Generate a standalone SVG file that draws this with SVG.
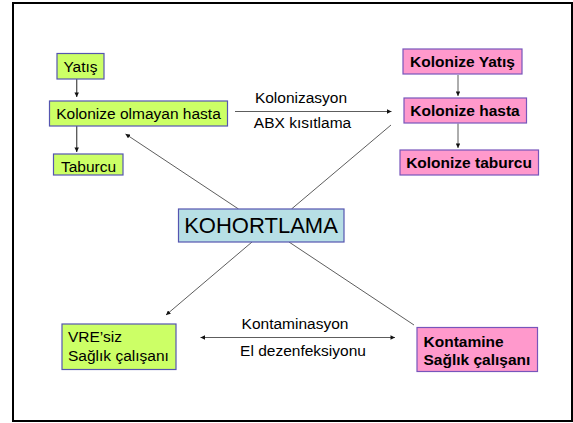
<svg xmlns="http://www.w3.org/2000/svg" width="573" height="423" viewBox="0 0 573 423">
<defs>
<style>
.t{font-family:"Liberation Sans",Arial,sans-serif;font-size:15.5px;fill:#000}
.b{font-weight:bold}
.g{fill:#CCFF66;stroke:#5555B0;stroke-width:1.2}
.p{fill:#FF99CC;stroke:#7755BB;stroke-width:1.2}
.k{fill:#B7DFE5;stroke:#5555B0;stroke-width:1.2}
.c{stroke:#333;stroke-width:0.8;fill:none}
.v{stroke:#555;stroke-width:1.3;fill:none}
</style>
<marker id="ah" viewBox="0 0 10 10" refX="10" refY="5" markerWidth="5" markerHeight="4.5" markerUnits="userSpaceOnUse" orient="auto-start-reverse">
<path d="M0,0 L10,5 L0,10 z" fill="#111"/>
</marker>
</defs>
<rect x="13" y="3" width="559" height="418" fill="#fff" stroke="#000" stroke-width="2"/>
<g id="connectors">
<line class="v" x1="76.7" y1="79" x2="76.7" y2="97" marker-end="url(#ah)"/>
<line class="v" x1="76.7" y1="126" x2="76.7" y2="152" marker-end="url(#ah)"/>
<line class="c" x1="458" y1="75" x2="458" y2="96" marker-end="url(#ah)"/>
<line class="c" x1="458" y1="123.5" x2="458" y2="148" marker-end="url(#ah)"/>
<line class="c" x1="235" y1="111.5" x2="391.5" y2="111.5" marker-end="url(#ah)"/>
<line class="c" x1="200.5" y1="337.5" x2="395" y2="337.5" marker-start="url(#ah)" marker-end="url(#ah)"/>
<line class="c" x1="238.5" y1="209" x2="125.5" y2="134" marker-end="url(#ah)"/>
<line class="c" x1="291.5" y1="209" x2="391" y2="125"/>
<line class="c" x1="252" y1="242" x2="166" y2="315" marker-end="url(#ah)"/>
<line class="c" x1="289" y1="242" x2="414" y2="325"/>
</g>
<g id="lbl-kolonizasyon"><text class="t" x="301" y="103" text-anchor="middle">Kolonizasyon</text></g>
<g id="lbl-abx"><text class="t" x="302.5" y="128" text-anchor="middle">ABX kısıtlama</text></g>
<g id="lbl-kontaminasyon"><text class="t" x="295" y="329" text-anchor="middle">Kontaminasyon</text></g>
<g id="lbl-el"><text class="t" x="303" y="356" text-anchor="middle">El dezenfeksiyonu</text></g>
<g id="yatis"><rect class="g" x="57" y="53.5" width="47" height="25.5"/><text class="t" x="80.5" y="71.5" text-anchor="middle">Yatış</text></g>
<g id="kolonize-olmayan"><rect class="g" x="49.5" y="101" width="178" height="25"/><text class="t" x="138.5" y="119" text-anchor="middle">Kolonize olmayan hasta</text></g>
<g id="taburcu"><rect class="g" x="53.5" y="154" width="69.5" height="21"/><text class="t" x="88.5" y="171.5" text-anchor="middle">Taburcu</text></g>
<g id="kolonize-yatis"><rect class="p" x="403" y="49" width="119" height="25"/><text class="t b" x="462.5" y="67" text-anchor="middle">Kolonize Yatış</text></g>
<g id="kolonize-hasta"><rect class="p" x="404" y="98" width="122.5" height="25"/><text class="t b" x="465" y="116" text-anchor="middle">Kolonize hasta</text></g>
<g id="kolonize-taburcu"><rect class="p" x="400" y="150" width="138.5" height="25"/><text class="t b" x="469" y="168" text-anchor="middle">Kolonize taburcu</text></g>
<g id="kohortlama"><rect class="k" x="178.5" y="209" width="165.5" height="33"/><text class="t" style="font-size:22px" x="261" y="233.3" text-anchor="middle">KOHORTLAMA</text></g>
<g id="vresiz"><rect class="g" x="62" y="324" width="114" height="45.5"/><text class="t" x="68" y="342.3">VRE’siz</text><text class="t" x="68" y="360.7">Sağlık çalışanı</text></g>
<g id="kontamine"><rect class="p" x="417" y="327.5" width="120.5" height="44"/><text class="t b" x="423.5" y="346.7">Kontamine</text><text class="t b" x="423.5" y="365">Sağlık çalışanı</text></g>
</svg>
